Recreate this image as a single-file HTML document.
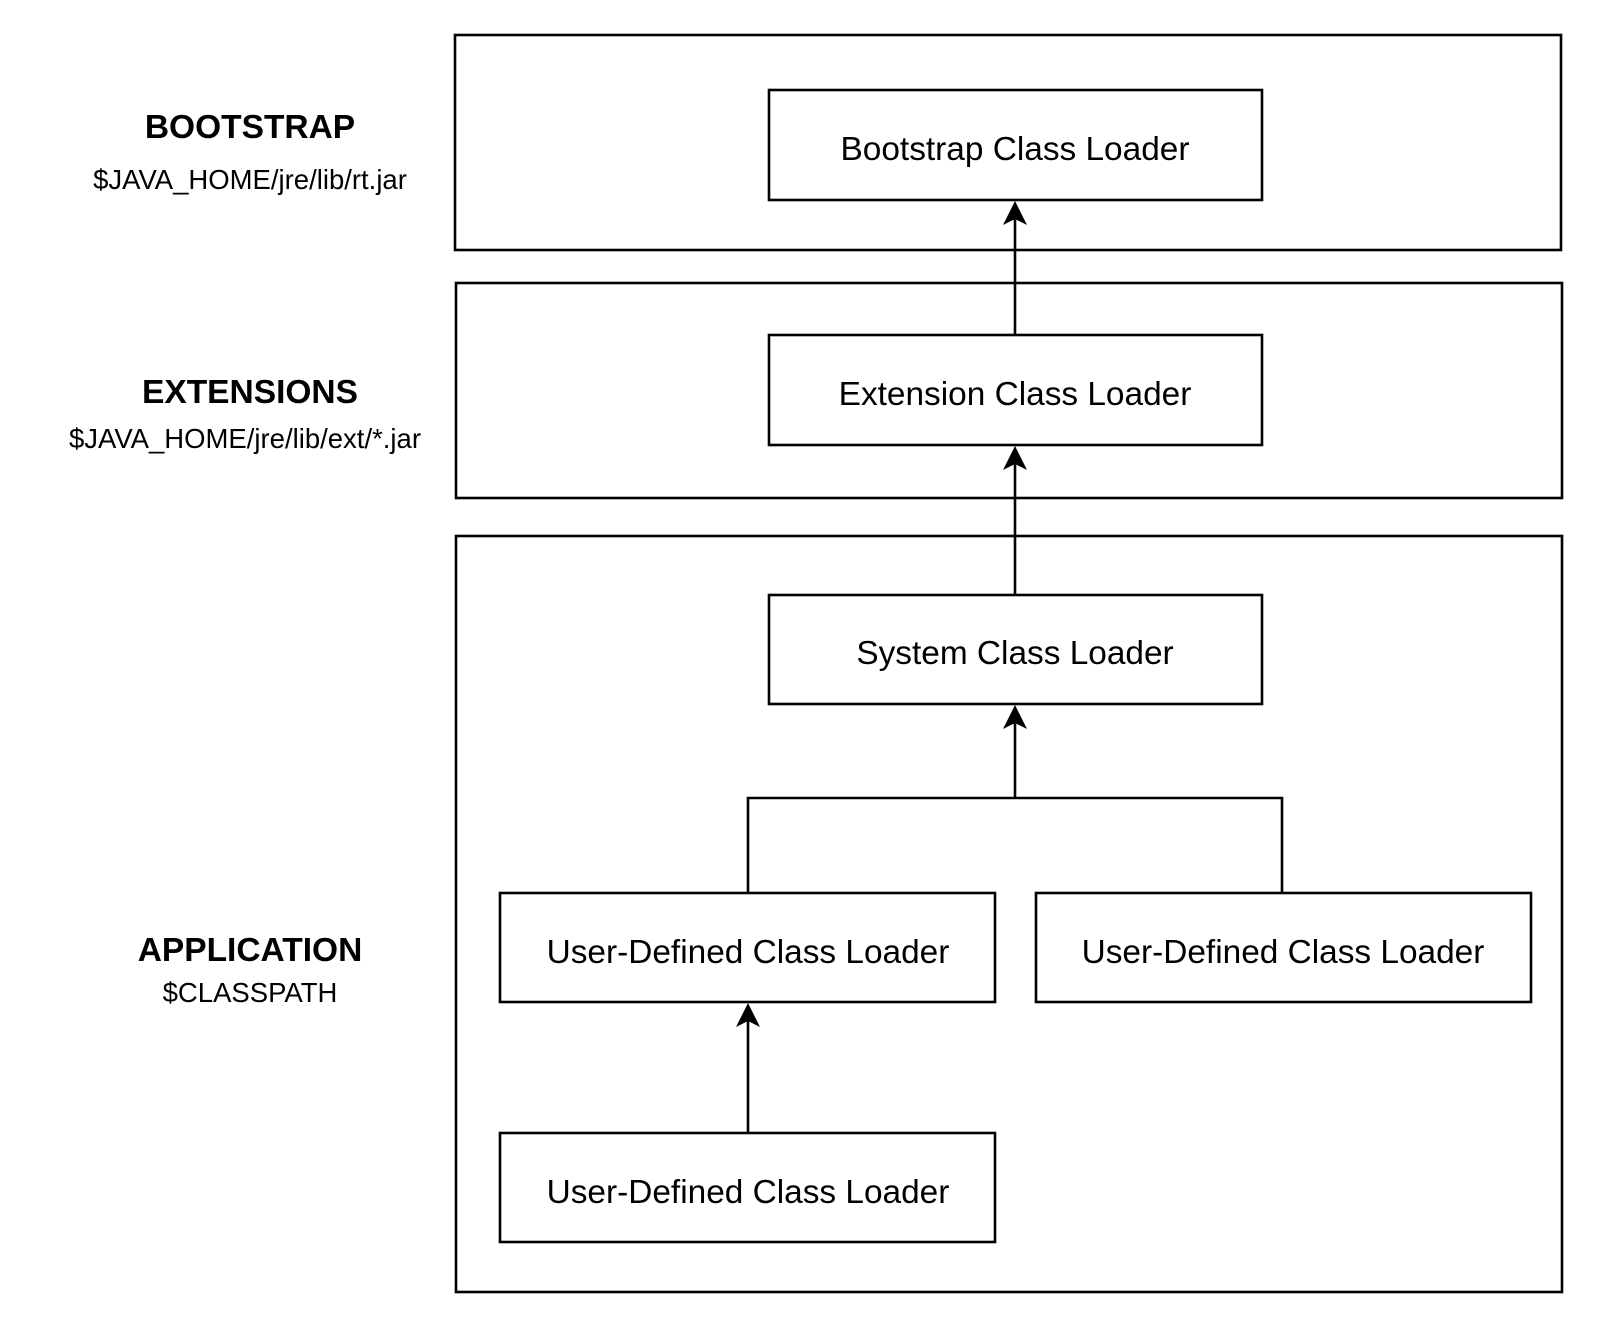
<!DOCTYPE html>
<html><head><meta charset="utf-8"><style>
html,body{margin:0;padding:0;background:#fff;}
svg text{font-family:"Liberation Sans",Arial,sans-serif;fill:#000;}
</style></head><body>
<svg width="1612" height="1328" viewBox="0 0 1612 1328" xmlns="http://www.w3.org/2000/svg">
<g fill="none" stroke="#000" stroke-width="2.6">
<rect x="455" y="35" width="1106" height="215"/>
<rect x="456" y="283" width="1106" height="215"/>
<rect x="456" y="536" width="1106" height="756"/>
<rect x="769" y="90" width="493" height="110"/>
<rect x="769" y="335" width="493" height="110"/>
<rect x="769" y="595" width="493" height="109"/>
<rect x="500" y="893" width="495" height="109"/>
<rect x="1036" y="893" width="495" height="109"/>
<rect x="500" y="1133" width="495" height="109"/>
<line x1="1015" y1="335" x2="1015" y2="210"/>
<line x1="1015" y1="595" x2="1015" y2="455"/>
<line x1="1015" y1="798" x2="1015" y2="714"/>
<polyline points="748,893 748,798 1282,798 1282,893"/>
<line x1="748" y1="1133" x2="748" y2="1012"/>
</g>
<g fill="#000">
<path d="M1015,201 L1003,225 L1015,219 L1027,225 Z"/>
<path d="M1015,446 L1003,470 L1015,464 L1027,470 Z"/>
<path d="M1015,705 L1003,729 L1015,723 L1027,729 Z"/>
<path d="M748,1003 L736,1027 L748,1021 L760,1027 Z"/>
</g>
<g text-anchor="middle" font-size="33.4">
<text x="1015" y="160">Bootstrap Class Loader</text>
<text x="1015" y="405">Extension Class Loader</text>
<text x="1015" y="664">System Class Loader</text>
<text x="748" y="963">User-Defined Class Loader</text>
<text x="1283" y="963">User-Defined Class Loader</text>
<text x="748" y="1203">User-Defined Class Loader</text>
</g>
<g text-anchor="middle">
<text x="250" y="138" font-size="33.5" font-weight="bold">BOOTSTRAP</text>
<text x="250" y="189" font-size="27.5">$JAVA_HOME/jre/lib/rt.jar</text>
<text x="250" y="403" font-size="33.5" font-weight="bold">EXTENSIONS</text>
<text x="245" y="448" font-size="27.5">$JAVA_HOME/jre/lib/ext/*.jar</text>
<text x="250" y="961" font-size="33.5" font-weight="bold">APPLICATION</text>
<text x="250" y="1002" font-size="27.5">$CLASSPATH</text>
</g>
</svg>
</body></html>
